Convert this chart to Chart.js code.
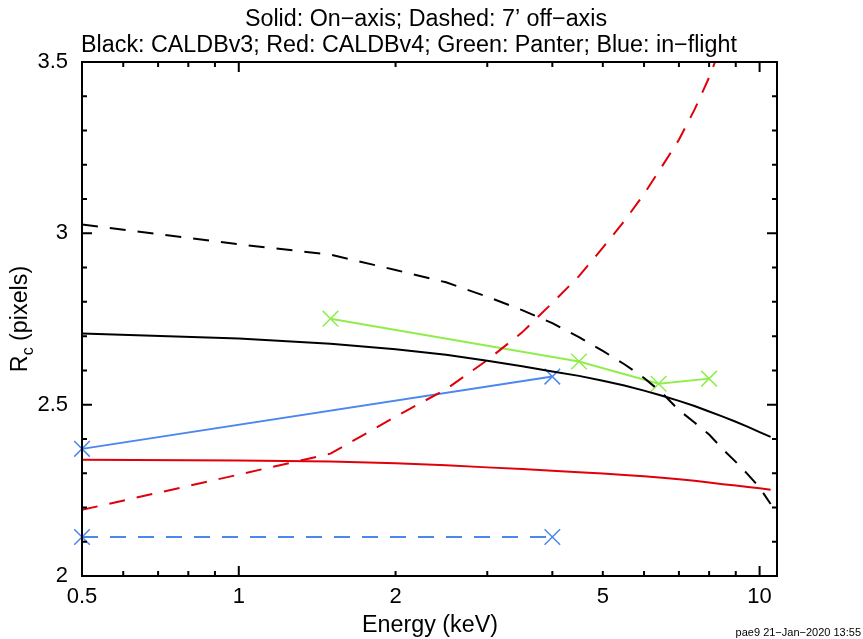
<!DOCTYPE html>
<html lang="en">
<head>
<meta charset="UTF-8">
<title>Rc vs energy</title>
<style>
  html, body { margin: 0; padding: 0; background: #fff; }
</style>
</head>
<body>
<canvas id="rcChart" width="863" height="639"></canvas>

<script src="https://cdn.jsdelivr.net/npm/chart.js"></script>
<script>
// energies (keV) of the CALDB model curves
var modelEnergy = [0.5, 1, 1.5, 2, 2.5, 3, 3.5, 4, 4.5, 5, 5.5, 6, 6.5, 7, 7.5, 8, 8.5, 9, 9.5, 10, 10.5];

// CALDBv3 (black), Rc in pixels
var caldb3OnAxis  = [2.708, 2.693, 2.678, 2.662, 2.646, 2.628, 2.612, 2.597, 2.584, 2.570, 2.556, 2.541, 2.526, 2.511, 2.496, 2.480, 2.465, 2.450, 2.435, 2.420, 2.406];
var caldb3OffAxis = [3.026, 2.968, 2.938, 2.893, 2.857, 2.815, 2.776, 2.738, 2.697, 2.657, 2.618, 2.578, 2.534, 2.484, 2.448, 2.413, 2.370, 2.333, 2.296, 2.258, 2.210];

// CALDBv4 (red)
var caldb4OnAxis  = [2.339, 2.337, 2.334, 2.329, 2.323, 2.317, 2.312, 2.307, 2.303, 2.299, 2.295, 2.291, 2.287, 2.282, 2.278, 2.273, 2.268, 2.264, 2.260, 2.256, 2.252];
var caldb4OffEnergy = [0.5, 1, 1.5, 2, 2.5, 3, 3.5, 4, 4.5, 5, 5.5, 6, 6.5, 7, 7.5, 8, 8.5];
var caldb4OffAxis = [2.193, 2.296, 2.357, 2.465, 2.545, 2.630, 2.711, 2.797, 2.875, 2.958, 3.036, 3.115, 3.196, 3.273, 3.361, 3.455, 3.560];

// Panter ground calibration (green)
var panterEnergy = [1.5, 4.5, 6.4, 8.0];
var panterOnAxis = [2.751, 2.626, 2.561, 2.576];

// in-flight (blue)
var flightEnergy  = [0.5, 4.0];
var flightOnAxis  = [2.371, 2.582];
var flightOffAxis = [2.114, 2.114];

// axis ticks
var xLabelTicks = [0.5, 1, 2, 5, 10];
var xMajorTicks = [1, 10];
var xMinorTicks = [0.6, 0.7, 0.8, 0.9, 2, 3, 4, 5, 6, 7, 8, 9];
var yLabelTicks = [2, 2.5, 3, 3.5];
var yMajorTicks = [2.5, 3];
var yMinorTicks = [2.1, 2.2, 2.3, 2.4, 2.6, 2.7, 2.8, 2.9, 3.1, 3.2, 3.3, 3.4];

var BLACK = '#000000';
var RED = '#e0000b';
var GREEN = '#8fee4c';
var BLUE = '#4b87ee';
var FONT = '"Liberation Sans", Arial, Helvetica, sans-serif';
var LABEL_PX = 23.3;

function pairs(xs, ys) {
    return xs.map(function (x, i) { return { x: x, y: ys[i] }; });
}

function curve(xs, ys, color, dashed) {
    return {
        data: pairs(xs, ys),
        borderColor: color,
        borderWidth: 2,
        borderDash: dashed ? [16, 12] : [],
        pointRadius: 0,
        tension: 0
    };
}

function withMarks(xs, ys, color, dashed) {
    var ds = curve(xs, ys, color, dashed);
    ds.pointRadius = 11;
    ds.pointStyle = 'crossRot';
    ds.pointBorderColor = color;
    ds.pointBackgroundColor = color;
    ds.pointBorderWidth = 1.5;
    ds.clip = false;
    return ds;
}

// frame, inward tick marks, titles and the footer stamp
var decorations = {
    id: 'decorations',
    afterDraw: function (chart) {
        var ctx = chart.ctx;
        var a = chart.chartArea;
        var sx = chart.scales.x;
        var sy = chart.scales.y;

        ctx.save();
        ctx.strokeStyle = BLACK;
        ctx.lineWidth = 2;
        ctx.setLineDash([]);
        ctx.strokeRect(a.left, a.top, a.right - a.left, a.bottom - a.top);

        ctx.beginPath();
        function xTick(v, len) {
            var px = sx.getPixelForValue(v);
            ctx.moveTo(px, a.bottom); ctx.lineTo(px, a.bottom - len);
            ctx.moveTo(px, a.top); ctx.lineTo(px, a.top + len);
        }
        function yTick(v, len) {
            var py = sy.getPixelForValue(v);
            ctx.moveTo(a.left, py); ctx.lineTo(a.left + len, py);
            ctx.moveTo(a.right, py); ctx.lineTo(a.right - len, py);
        }
        xMajorTicks.forEach(function (v) { xTick(v, 10); });
        xMinorTicks.forEach(function (v) { xTick(v, 5); });
        yMajorTicks.forEach(function (v) { yTick(v, 10); });
        yMinorTicks.forEach(function (v) { yTick(v, 5); });
        ctx.stroke();

        var big = LABEL_PX + 'px ' + FONT;
        ctx.fillStyle = BLACK;
        ctx.textBaseline = 'alphabetic';
        ctx.font = big;
        ctx.textAlign = 'center';
        ctx.fillText('Solid: On\u2212axis; Dashed: 7\u2019 off\u2212axis', 426, 26);
        ctx.fillText('Black: CALDBv3; Red: CALDBv4; Green: Panter; Blue: in\u2212flight', 409, 52);

        ctx.fillText('Energy (keV)', 430, 632);

        // y title with subscript c
        var main = 'R', sub = 'c', rest = ' (pixels)';
        ctx.font = big;
        var wMain = ctx.measureText(main).width;
        var wRest = ctx.measureText(rest).width;
        ctx.font = '16px ' + FONT;
        var wSub = ctx.measureText(sub).width;
        var total = wMain + wSub + wRest;
        ctx.translate(27, (a.top + a.bottom) / 2);
        ctx.rotate(-Math.PI / 2);
        ctx.textAlign = 'left';
        var x0 = -total / 2;
        ctx.font = big;
        ctx.fillText(main, x0, 0);
        ctx.font = '16px ' + FONT;
        ctx.fillText(sub, x0 + wMain, 6);
        ctx.font = big;
        ctx.fillText(rest, x0 + wMain + wSub, 0);
        ctx.setTransform(1, 0, 0, 1, 0, 0);

        ctx.font = '11px ' + FONT;
        ctx.textAlign = 'right';
        ctx.fillText('pae9 21\u2212Jan\u22122020 13:55', 861, 636);
        ctx.restore();
    }
};

var ctx = document.getElementById('rcChart').getContext('2d');
var rcChart = new Chart(ctx, {
    type: 'line',
    data: {
        datasets: [
            curve(modelEnergy, caldb3OnAxis, BLACK, false),
            curve(modelEnergy, caldb3OffAxis, BLACK, true),
            curve(modelEnergy, caldb4OnAxis, RED, false),
            curve(caldb4OffEnergy, caldb4OffAxis, RED, true),
            withMarks(panterEnergy, panterOnAxis, GREEN, false),
            withMarks(flightEnergy, flightOnAxis, BLUE, false),
            withMarks(flightEnergy, flightOffAxis, BLUE, true)
        ]
    },
    options: {
        responsive: false,
        devicePixelRatio: 1,
        animation: false,
        layout: { padding: { left: 0, top: 62, right: 86, bottom: 0 } },
        plugins: {
            legend: { display: false },
            title: { display: false },
            tooltip: { enabled: false }
        },
        scales: {
            x: {
                type: 'logarithmic',
                min: 0.5,
                max: 10.8,
                grid: { display: false, drawTicks: false },
                border: { display: false },
                afterBuildTicks: function (scale) {
                    scale.ticks = xLabelTicks.map(function (v) { return { value: v }; });
                },
                afterFit: function (scale) { scale.height = 63; },
                ticks: {
                    autoSkip: false,
                    maxRotation: 0,
                    padding: 8,
                    color: BLACK,
                    font: { family: FONT, size: 22 },
                    callback: function (v) { return String(v); }
                }
            },
            y: {
                type: 'linear',
                min: 2,
                max: 3.5,
                grid: { display: false, drawTicks: false },
                border: { display: false },
                afterBuildTicks: function (scale) {
                    scale.ticks = yLabelTicks.map(function (v) { return { value: v }; });
                },
                afterFit: function (scale) { scale.width = 82; },
                ticks: {
                    padding: 14,
                    color: BLACK,
                    font: { family: FONT, size: 22 },
                    callback: function (v) { return String(v); }
                }
            }
        }
    },
    plugins: [decorations]
});
</script>
</body>
</html>
